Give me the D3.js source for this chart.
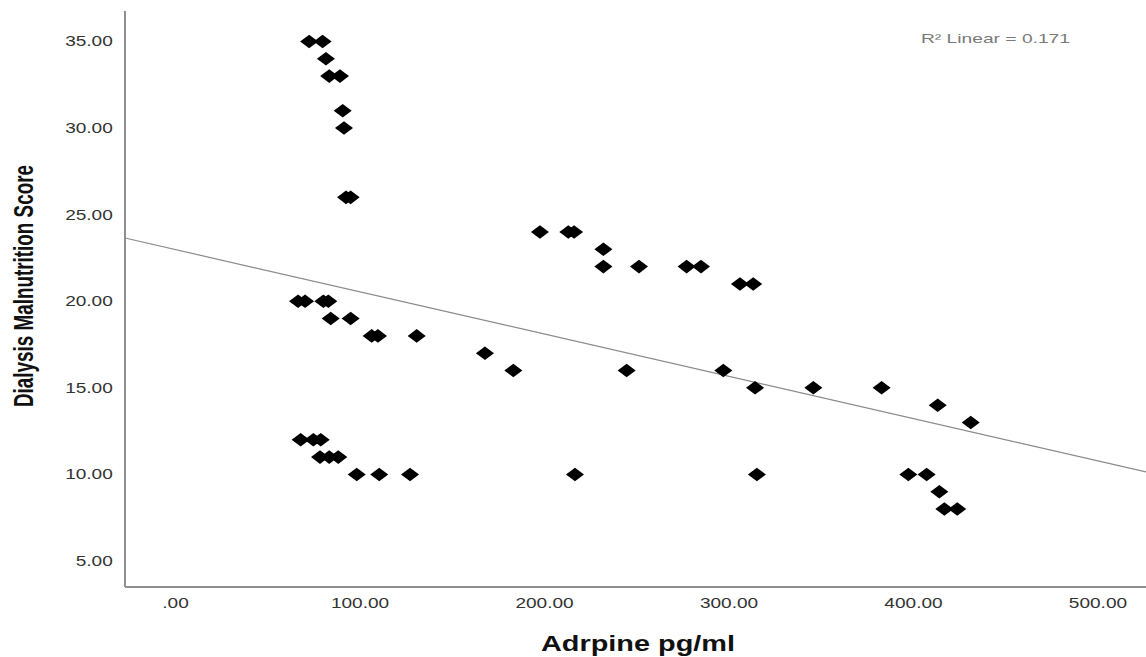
<!DOCTYPE html>
<html>
<head>
<meta charset="utf-8">
<script src="https://cdn.jsdelivr.net/npm/d3@7"></script>
<style>
  html, body { margin: 0; padding: 0; background: #fff; }
  svg { display: block; }
</style>
</head>
<body>
<svg id="chart" width="1146" height="657"></svg>
<script>
// ---- data ----
const adrpine = [72.7, 80.0, 81.8, 83.6, 89.4, 90.9, 91.6, 92.7, 95.2,
  197.8, 213.2, 216.3, 232.2, 232.2, 251.5, 277.3, 285.1, 306.2, 313.4,
  66.7, 70.5, 80.4, 83.1, 84.4, 95.2, 106.6, 110.0, 131.0, 168.0,
  183.4, 244.8, 297.2, 314.4, 346.0, 383.0, 413.4, 431.3,
  68.1, 75.0, 79.0, 78.6, 83.6, 88.5,
  98.5, 110.7, 127.4, 216.8, 315.4, 397.5, 407.4, 414.3, 417.0, 424.0];
const dms = [35, 35, 34, 33, 33, 31, 30, 26, 26,
  24, 24, 24, 23, 22, 22, 22, 22, 21, 21,
  20, 20, 20, 20, 19, 19, 18, 18, 18, 17,
  16, 16, 16, 15, 15, 15, 14, 13,
  12, 12, 12, 11, 11, 11,
  10, 10, 10, 10, 10, 10, 10, 9, 8, 8];
const xTicks = [0, 100, 200, 300, 400, 500];
const xTickLabels = [".00", "100.00", "200.00", "300.00", "400.00", "500.00"];
const yTicks = [5, 10, 15, 20, 25, 30, 35];
const yTickLabels = ["5.00", "10.00", "15.00", "20.00", "25.00", "30.00", "35.00"];
const fitIntercept = 22.99;   // fitted line
const fitSlope = -0.0244;
const r2Label = "R\u00B2 Linear = 0.171";
const xTitle = "Adrpine pg/ml";
const yTitle = "Dialysis Malnutrition Score";

// ---- layout ----
const svg = d3.select("#chart");
const plotL = 125, plotR = 1146, plotT = 11, plotB = 587;
const stretch = 1.36;

const x = d3.scaleLinear().domain([-27.1, 526.3]).range([plotL, plotR]);
const y = d3.scaleLinear().domain([3.5, 36.76]).range([plotB, plotT]);

// axes
const xAxis = d3.axisBottom(x).tickValues(xTicks).tickSize(0).tickPadding(11)
  .tickFormat((d, i) => xTickLabels[i]);
const yAxis = d3.axisLeft(y).tickValues(yTicks).tickSize(0).tickPadding(9)
  .tickFormat((d, i) => yTickLabels[i]);

const gx = svg.append("g").attr("transform", `translate(0,${plotB})`).call(xAxis);
const gy = svg.append("g").attr("transform", `translate(${plotL},0)`).call(yAxis);

[gx, gy].forEach(g => {
  g.select(".domain").attr("stroke", "#8f8f8f").attr("stroke-width", 2);
  g.selectAll("text")
    .attr("fill", "#333")
    .style("font-family", "'Liberation Sans', Arial, sans-serif")
    .style("font-size", "14px")
    .attr("transform", `scale(${stretch},1)`);
});
gx.select(".domain").attr("d", `M${plotL},0H${plotR}`);
gy.select(".domain").attr("d", `M0,${plotB}V${plotT}`);

// fit line
const fitLine = d3.line().x(d => x(d)).y(d => y(fitIntercept + fitSlope * d));
svg.append("path")
  .datum(x.domain())
  .attr("d", fitLine)
  .attr("fill", "none")
  .attr("stroke", "#8a8a8a")
  .attr("stroke-width", 1.2);

// points (wide diamonds)
const sq = d3.symbol().type(d3.symbolSquare).size(92)();
svg.append("g").selectAll("path")
  .data(d3.range(adrpine.length))
  .join("path")
  .attr("d", sq)
  .attr("transform", i => `translate(${x(adrpine[i])},${y(dms[i])}) scale(1.33,1) rotate(45)`)
  .attr("fill", "#000");

// R2 label
svg.append("text")
  .attr("x", 921).attr("y", 42.5)
  .attr("textLength", 149).attr("lengthAdjust", "spacingAndGlyphs")
  .attr("fill", "#7a7a7a")
  .style("font-family", "'Liberation Sans', Arial, sans-serif")
  .style("font-size", "13px")
  .text(r2Label);

// axis titles
svg.append("text")
  .attr("x", 541).attr("y", 651)
  .attr("textLength", 194).attr("lengthAdjust", "spacingAndGlyphs")
  .attr("fill", "#111")
  .style("font-family", "'Liberation Sans', Arial, sans-serif")
  .style("font-size", "22px")
  .style("font-weight", "bold")
  .text(xTitle);

svg.append("text")
  .attr("transform", `translate(33,407) rotate(-90) scale(1,1.45)`)
  .attr("textLength", 242).attr("lengthAdjust", "spacingAndGlyphs")
  .attr("fill", "#111")
  .style("font-family", "'Liberation Sans', Arial, sans-serif")
  .style("font-size", "19px")
  .style("font-weight", "bold")
  .text(yTitle);
</script>
</body>
</html>
